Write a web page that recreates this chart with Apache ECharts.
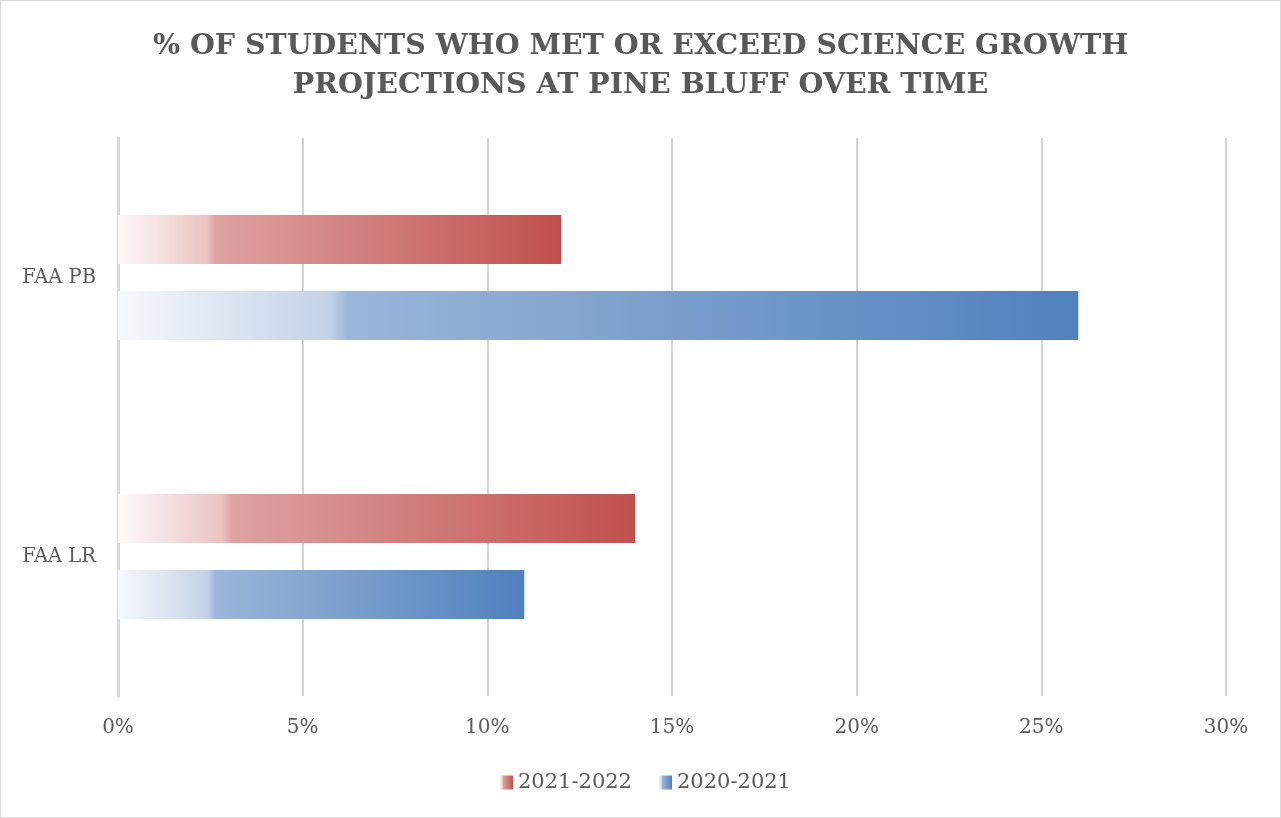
<!DOCTYPE html>
<html>
<head>
<meta charset="utf-8">
<script src="https://cdn.jsdelivr.net/npm/echarts@6/dist/echarts.min.js"></script>
<style>
html,body{margin:0;padding:0;background:#fff;}
#chart{width:1281px;height:818px;box-sizing:border-box;border:1px solid #d9d9d9;}
</style>
</head>
<body>
<div id="chart"></div>
<script>
const categories = ['FAA LR', 'FAA PB'];
const seriesNames = ['2021-2022', '2020-2021'];
const values2122 = [0.14, 0.12];
const values2021 = [0.11, 0.26];
const xTicks = {min: 0, max: 0.30, interval: 0.05};

const chart = echarts.init(document.getElementById('chart'), null, {renderer: 'canvas'});
const serif = '"DejaVu Serif", "Liberation Serif", serif';

function grad(stops) {
  return new echarts.graphic.LinearGradient(0, 0, 1, 0, stops.map(s => ({offset: s[0], color: s[1]})));
}
const redGrad = grad([[0, '#fefafa'], [0.2, '#eac3c2'], [0.22, '#dea3a2'], [1, '#c0504d']]);
const blueGrad = grad([[0, '#f7f9fc'], [0.22, '#c3d2e8'], [0.24, '#9bb6d8'], [1, '#4f81bd']]);

chart.setOption({
  animation: false,
  title: {
    text: '% OF STUDENTS WHO MET OR EXCEED SCIENCE GROWTH\nPROJECTIONS AT PINE BLUFF OVER TIME',
    left: 'center',
    top: 21,
    textStyle: {fontFamily: serif, fontWeight: 'bold', fontSize: 28.5, color: '#595959', lineHeight: 39}
  },
  legend: {
    bottom: 19,
    left: 494,
    icon: 'rect',
    itemWidth: 13,
    itemHeight: 14,
    itemGap: 27,
    textStyle: {fontFamily: serif, fontSize: 21, color: '#595959'},
    data: seriesNames
  },
  grid: {left: 117, right: 54, top: 137, bottom: 121, containLabel: false},
  xAxis: {
    type: 'value',
    min: xTicks.min, max: xTicks.max, interval: xTicks.interval,
    axisLine: {show: false},
    axisTick: {show: false},
    splitLine: {lineStyle: {color: '#d4d4d4', width: 2}},
    axisLabel: {
      formatter: v => Math.round(v * 100) + '%',
      fontFamily: serif, fontSize: 20, color: '#595959', margin: 22
    }
  },
  yAxis: {
    type: 'category',
    data: categories,
    axisLine: {show: true, lineStyle: {color: '#d9d9d9', width: 3}},
    axisTick: {show: false},
    axisLabel: {fontFamily: serif, fontSize: 19.5, color: '#595959', margin: 22}
  },
  series: [
    {name: seriesNames[0], type: 'bar', data: values2122, barWidth: 49, barGap: '55%',
     itemStyle: {color: redGrad}},
    {name: seriesNames[1], type: 'bar', data: values2021, barWidth: 49, barGap: '55%',
     itemStyle: {color: blueGrad}}
  ]
});
</script>
</body>
</html>
